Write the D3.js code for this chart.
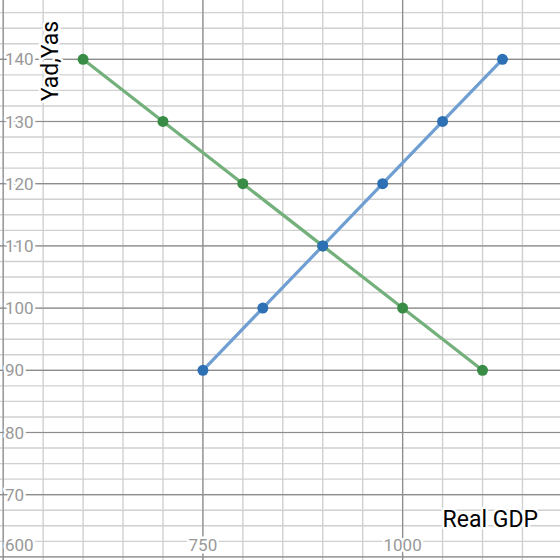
<!DOCTYPE html>
<html>
<head>
<meta charset="utf-8">
<script src="https://cdn.jsdelivr.net/npm/d3@7"></script>
<style>
  body { margin: 0; background: #fff; }
  svg { display: block; font-family: Roboto, "Noto Sans", sans-serif; }
  .lbl { paint-order: stroke; stroke: #fff; stroke-width: 5px; stroke-linejoin: round; }
</style>
</head>
<body>
<div id="chart"></div>
<script>
// aggregate demand (green) and aggregate supply (blue)
const adGdp = [600, 700, 800, 900, 1000, 1100];
const adPrice = [140, 130, 120, 110, 100, 90];
const asGdp = [750, 825, 900, 975, 1050, 1125];
const asPrice = [90, 100, 110, 120, 130, 140];

const yTickLabels = [70, 80, 90, 100, 110, 120, 130, 140];
const xTickLabels = [750, 1000];
const cornerLabel = "600";

const width = 560;
const height = 560;

const x = d3.scaleLinear().domain([496, 1197]).range([0, width]);
const y = d3.scaleLinear().domain([59.5, 149.53]).range([height, 0]);

const svg = d3.select("#chart").append("svg")
    .attr("width", width)
    .attr("height", height);

// grid: minor first, then major
const xMinor = d3.range(500, 1200, 50);
const yMinor = d3.range(60, 150, 2.5);
const xMajor = d3.range(500, 1200, 250);
const yMajor = d3.range(60, 150, 10);

svg.append("g").selectAll("line")
    .data(xMinor)
    .enter().append("line")
    .attr("x1", d => x(d)).attr("x2", d => x(d))
    .attr("y1", 0).attr("y2", height)
    .attr("stroke", "#d0d0d0").attr("stroke-width", 1.4);

svg.append("g").selectAll("line")
    .data(yMinor)
    .enter().append("line")
    .attr("x1", 0).attr("x2", width)
    .attr("y1", d => y(d)).attr("y2", d => y(d))
    .attr("stroke", "#d0d0d0").attr("stroke-width", 1.4);

svg.append("g").selectAll("line")
    .data(xMajor)
    .enter().append("line")
    .attr("x1", d => x(d)).attr("x2", d => x(d))
    .attr("y1", 0).attr("y2", height)
    .attr("stroke", "#8c8c8c").attr("stroke-width", 1.2);

svg.append("g").selectAll("line")
    .data(yMajor)
    .enter().append("line")
    .attr("x1", 0).attr("x2", width)
    .attr("y1", d => y(d)).attr("y2", d => y(d))
    .attr("stroke", "#8c8c8c").attr("stroke-width", 1.2);

// tick labels
svg.append("g").selectAll("text")
    .data(yTickLabels)
    .enter().append("text")
    .attr("class", "lbl")
    .attr("x", 5)
    .attr("y", d => y(d))
    .attr("dy", "0.36em")
    .attr("fill", "#999")
    .attr("font-size", 17)
    .text(d => d);

svg.append("g").selectAll("text")
    .data(xTickLabels)
    .enter().append("text")
    .attr("class", "lbl")
    .attr("x", d => x(d))
    .attr("y", 551)
    .attr("text-anchor", "middle")
    .attr("fill", "#999")
    .attr("font-size", 17)
    .text(d => d);

svg.append("text")
    .attr("class", "lbl")
    .attr("x", 5)
    .attr("y", 551)
    .attr("fill", "#999")
    .attr("font-size", 17)
    .text(cornerLabel);

// axis titles
svg.append("text")
    .attr("class", "lbl")
    .attr("transform", "translate(58,61) rotate(-90)")
    .attr("text-anchor", "middle")
    .attr("fill", "#000")
    .attr("font-size", 23)
    .text("Yad,Yas");

svg.append("text")
    .attr("class", "lbl")
    .attr("x", 538)
    .attr("y", 527)
    .attr("text-anchor", "end")
    .attr("fill", "#000")
    .attr("font-size", 23)
    .text("Real GDP");

// series
const series = [
    { xs: adGdp, ys: adPrice, line: "#74b07c", dot: "#388c46" },
    { xs: asGdp, ys: asPrice, line: "#6f9fd2", dot: "#2d70b3" }
];

const lineGen = d3.line()
    .x(d => x(d[0]))
    .y(d => y(d[1]));

series.forEach(s => {
    const pts = s.xs.map((v, i) => [v, s.ys[i]]);
    svg.append("path")
        .datum(pts)
        .attr("d", lineGen)
        .attr("fill", "none")
        .attr("stroke", s.line)
        .attr("stroke-width", 3.2);
});

series.forEach(s => {
    const pts = s.xs.map((v, i) => [v, s.ys[i]]);
    svg.append("g").selectAll("circle")
        .data(pts)
        .enter().append("circle")
        .attr("cx", d => x(d[0]))
        .attr("cy", d => y(d[1]))
        .attr("r", 5.5)
        .attr("fill", s.dot);
});
</script>
</body>
</html>
